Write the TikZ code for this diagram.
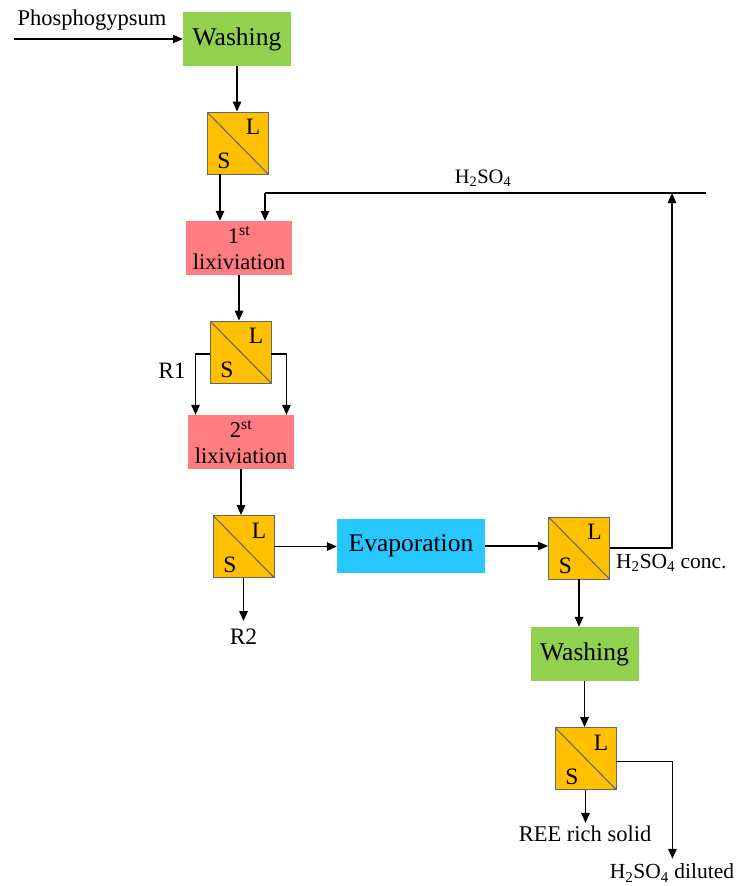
\documentclass[tikz,border=0pt]{standalone}
\usepackage{fontspec}
\setmainfont{Liberation Serif}
\usetikzlibrary{arrows.meta,calc}
\definecolor{washgreen}{RGB}{146,208,80}
\definecolor{lixred}{RGB}{255,124,128}
\definecolor{sepor}{RGB}{255,192,0}
\definecolor{evapcyan}{RGB}{38,198,255}
\tikzset{
  box/.style={rectangle, inner sep=0pt, font=\fontsize{25.5}{26}\selectfont, align=center},
  washbox/.style={box, fill=washgreen, minimum width=108pt, minimum height=54pt},
  lixbox/.style={box, fill=lixred, minimum width=106pt, minimum height=54pt, font=\fontsize{22.5}{26}\selectfont},
  evapbox/.style={box, fill=evapcyan, minimum width=148pt, minimum height=54pt},
  sepbox/.style={rectangle, fill=sepor, draw=black!60, line width=0.9pt, minimum width=61pt, minimum height=62pt, inner sep=0pt,
    path picture={
      \draw[line width=1.1pt] (path picture bounding box.north west) -- (path picture bounding box.south east);
      \node[font=\fontsize{23.5}{23.5}\selectfont, inner sep=0pt] at ([xshift=15.5pt,yshift=16pt]path picture bounding box.center) {L};
      \node[font=\fontsize{23.5}{23.5}\selectfont, inner sep=0pt] at ([xshift=-13.5pt,yshift=-18pt]path picture bounding box.center) {S};
    }},
  lbl/.style={inner sep=0pt, font=\fontsize{22.5}{22.5}\selectfont},
  arr/.style={line width=1.5pt, -{Triangle[length=10pt,width=8.5pt]}},
  ln/.style={line width=1.5pt}
}
\begin{document}
\begin{tikzpicture}[x=1pt,y=-1pt]
\useasboundingbox (0,0) rectangle (736,886);
% process boxes
\node[washbox] (wash1) at (237,39) {Washing};
\node[sepbox] (sep1) at (237.5,143) {};
\node[lixbox] (lix1) at (239,248) {1\textsuperscript{st}\\lixiviation};
\node[sepbox] (sep2) at (240.5,352) {};
\node[lixbox] (lix2) at (241,442) {2\textsuperscript{st}\\lixiviation};
\node[sepbox] (sep3) at (243.5,546.5) {};
\node[evapbox] (evap) at (411,546) {Evaporation};
\node[sepbox] (sep4) at (579,548) {};
\node[washbox] (wash2) at (584.5,654) {Washing};
\node[sepbox] (sep5) at (585.5,758.5) {};
% labels
\node[lbl] (phos) at (92,20) {Phosphogypsum};
\coordinate (phosin) at (14,39);
\node[lbl, font=\fontsize{20.5}{20.5}\selectfont] (h2top) at (483,178) {H\textsubscript{2}SO\textsubscript{4}};
\node[lbl, font=\fontsize{23.5}{23.5}\selectfont] (r1) at (172,371) {R1};
\node[lbl, font=\fontsize{23.5}{23.5}\selectfont] (r2) at (243.5,637) {R2};
\node[lbl, anchor=west, font=\fontsize{21.5}{21.5}\selectfont] (conc) at (616,563) {H\textsubscript{2}SO\textsubscript{4} conc.};
\node[lbl] (ree) at (585,834) {REE rich solid};
\node[lbl, font=\fontsize{21.5}{21.5}\selectfont] (dil) at (672,873) {H\textsubscript{2}SO\textsubscript{4} diluted};
\coordinate (recend) at (706,193);
\coordinate (reccorner) at (672,193);
% connectors
\draw[arr] (phosin) -- (wash1.west);
\draw[arr] (wash1.south) -- (sep1.north -| wash1.south);
\draw[arr] ([xshift=-17.5pt]sep1.south) -- ([xshift=-17.5pt]sep1.south |- lix1.north);
\draw[ln] (recend) -- (265,193) coordinate (recleft);
\draw[arr] (recleft) -- (recleft |- lix1.north);
\draw[arr] (lix1.south) -- (lix1.south |- sep2.north);
\draw[arr] ([yshift=-2pt]sep2.west) -- ++(-14,0) coordinate (s2l) -- (s2l |- lix2.north);
\draw[arr] ([yshift=-2pt]sep2.east) -- ++(15,0) coordinate (s2r) -- (s2r |- lix2.north);
\draw[arr] (lix2.south) -- (lix2.south |- sep3.north);
\draw[arr] (sep3.east) -- (evap.west |- sep3.east);
\draw[arr] (sep3.south) -- ([yshift=8pt]r2.north -| sep3.south);
\draw[arr] (evap.east) -- (sep4.west |- evap.east);
\draw[arr] (sep4.east) -- (sep4.east -| reccorner) -- (reccorner);
\draw[arr] (sep4.south) -- (wash2.north -| sep4.south);
\draw[arr] (wash2.south) -- (sep5.north -| wash2.south);
\draw[arr] (sep5.south) -- ([yshift=3pt]ree.north -| sep5.south);
\draw[arr] ([yshift=-3pt]sep5.east) -- ++(56,0) coordinate (s5r) -- ([yshift=5pt]s5r |- dil.north);
\end{tikzpicture}
\end{document}
